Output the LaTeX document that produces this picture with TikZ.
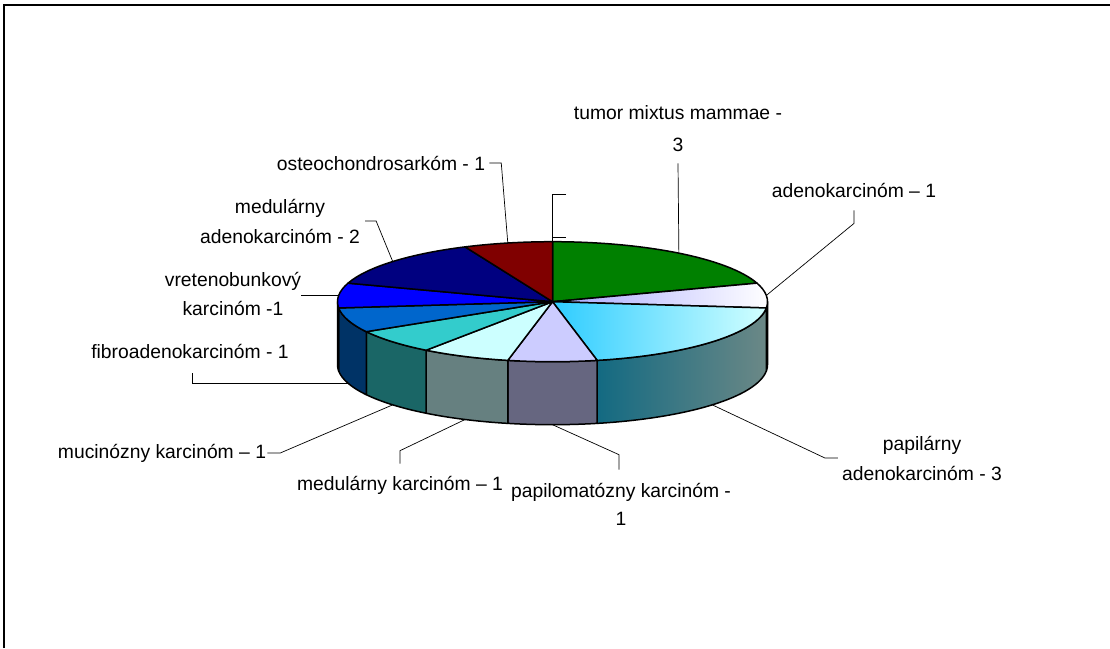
\documentclass[tikz,border=0pt]{standalone}
\usepackage{fontspec}
\setmainfont{Liberation Sans}
\usetikzlibrary{calc}

% top colours
\definecolor{cTumor}{HTML}{008000}
\definecolor{cAdeno}{HTML}{A8A8FF}
\definecolor{cPapilL}{HTML}{2ECCFF}
\definecolor{cPapilR}{HTML}{D2FFFF}
\definecolor{cPapilom}{HTML}{CCCCFF}
\definecolor{cMedK}{HTML}{CCFFFF}
\definecolor{cMucin}{HTML}{33CCCC}
\definecolor{cFibro}{HTML}{0066CC}
\definecolor{cVret}{HTML}{0000FF}
\definecolor{cMedA}{HTML}{000080}
\definecolor{cOsteo}{HTML}{800000}
% side colours
\definecolor{sPapilL}{HTML}{136A82}
\definecolor{sPapilR}{HTML}{6B8886}
\definecolor{sPapilom}{HTML}{666680}
\definecolor{sMedK}{HTML}{668080}
\definecolor{sMucin}{HTML}{1A6666}
\definecolor{sFibro}{HTML}{003366}
\definecolor{sVret}{HTML}{000080}

\tikzset{
  slice/.style={draw=black,line width=1.5pt,line join=round},
  pie/.style={x radius=215,y radius=60},
  leader/.style={draw=black,line width=0.7pt},
  lbl/.style={font=\fontsize{19.3}{30}\selectfont,inner sep=0pt,align=center},
}

\begin{document}
\begin{tikzpicture}[x=1pt,y=1pt]
    \useasboundingbox (0,0) rectangle (1110,648);
    \draw[line width=2pt] (4,0) -- (4,643) -- (1110,643);

    \coordinate (C) at (552.5,346.3);

    % sides
    \draw[slice,fill=sPapilR] ($(C)+(0:215 and 60)$) arc[pie,start angle=0,end angle=-6] -- ++(0,-63) arc[pie,start angle=-6,end angle=0] -- cycle;
    \draw[slice,left color=sPapilL,right color=sPapilR] ($(C)+(-6:215 and 60)$) arc[pie,start angle=-6,end angle=-78] -- ++(0,-63) arc[pie,start angle=-78,end angle=-6] -- cycle;
    \draw[slice,fill=sPapilom] ($(C)+(-78:215 and 60)$) arc[pie,start angle=-78,end angle=-102] -- ++(0,-63) arc[pie,start angle=-102,end angle=-78] -- cycle;
    \draw[slice,fill=sMedK] ($(C)+(-102:215 and 60)$) arc[pie,start angle=-102,end angle=-126] -- ++(0,-63) arc[pie,start angle=-126,end angle=-102] -- cycle;
    \draw[slice,fill=sMucin] ($(C)+(-126:215 and 60)$) arc[pie,start angle=-126,end angle=-150] -- ++(0,-63) arc[pie,start angle=-150,end angle=-126] -- cycle;
    \draw[slice,fill=sFibro] ($(C)+(-150:215 and 60)$) arc[pie,start angle=-150,end angle=-174] -- ++(0,-63) arc[pie,start angle=-174,end angle=-150] -- cycle;
    \draw[slice,fill=sVret] ($(C)+(-174:215 and 60)$) arc[pie,start angle=-174,end angle=-180] -- ++(0,-63) arc[pie,start angle=-180,end angle=-174] -- cycle;

    % top
    \draw[slice,fill=cTumor] (C) -- ($(C)+(90:215 and 60)$) arc[pie,start angle=90,end angle=18] -- cycle;
    \draw[slice,left color=cAdeno,right color=white] (C) -- ($(C)+(18:215 and 60)$) arc[pie,start angle=18,end angle=-6] -- cycle;
    \draw[slice,left color=cPapilL,right color=cPapilR] (C) -- ($(C)+(-6:215 and 60)$) arc[pie,start angle=-6,end angle=-78] -- cycle;
    \draw[slice,fill=cPapilom] (C) -- ($(C)+(-78:215 and 60)$) arc[pie,start angle=-78,end angle=-102] -- cycle;
    \draw[slice,fill=cMedK] (C) -- ($(C)+(-102:215 and 60)$) arc[pie,start angle=-102,end angle=-126] -- cycle;
    \draw[slice,fill=cMucin] (C) -- ($(C)+(-126:215 and 60)$) arc[pie,start angle=-126,end angle=-150] -- cycle;
    \draw[slice,fill=cFibro] (C) -- ($(C)+(-150:215 and 60)$) arc[pie,start angle=-150,end angle=-174] -- cycle;
    \draw[slice,fill=cVret] (C) -- ($(C)+(186:215 and 60)$) arc[pie,start angle=186,end angle=162] -- cycle;
    \draw[slice,fill=cMedA] (C) -- ($(C)+(162:215 and 60)$) arc[pie,start angle=162,end angle=114] -- cycle;
    \draw[slice,fill=cOsteo] (C) -- ($(C)+(114:215 and 60)$) arc[pie,start angle=114,end angle=90] -- cycle;

    % leader ends
    \coordinate (eTumor) at ($(C)+(54:215 and 60)$);
    \coordinate (eAdeno) at ($(C)+(6:215 and 60)$);
    \coordinate (ePapil) at ($(C)+(0,-63)+(-42:215 and 60)$);
    \coordinate (ePapilom) at ($(C)+(0,-63)+(-90:215 and 60)$);
    \coordinate (eMedK) at ($(C)+(0,-63)+(-114:215 and 60)$);
    \coordinate (eMucin) at ($(C)+(0,-63)+(-138:215 and 60)$);
    \coordinate (eFibro) at ($(C)+(0,-63)+(-162:215 and 60)$);
    \coordinate (eVret) at ($(C)+(174:215 and 60)$);
    \coordinate (eMedA) at ($(C)+(138:215 and 60)$);
    \coordinate (eOsteo) at ($(C)+(102:215 and 60)$);
    \coordinate (eNone) at ($(C)+(90:215 and 60)$);
    \coordinate (kNone) at (552.5,454);

    % labels
    \node[lbl] (lTumor) at (678,519) {tumor mixtus mammae -\\[2pt]3};
    \node[lbl] (lAdeno) at (854,458) {adenokarcinóm – 1};
    \node[lbl] (lPapil) at (922,190) {papilárny\\adenokarcinóm - 3};
    \node[lbl] (lPapilom) at (621,144) {papilomatózny karcinóm -\\[-2pt]1};
    \node[lbl] (lMedK) at (400,163) {medulárny karcinóm – 1};
    \node[lbl] (lMucin) at (162,195) {mucinózny karcinóm – 1};
    \node[lbl] (lFibro) at (190,297) {fibroadenokarcinóm - 1};
    \node[lbl] (lVret) at (233,354) {vretenobunkový\\[-1pt]karcinóm -1};
    \node[lbl] (lMedA) at (280,427) {medulárny\\adenokarcinóm - 2};
    \node[lbl] (lOsteo) at (381,485) {osteochondrosarkóm - 1};

    % leaders
    \draw[leader] ([yshift=-11]lTumor.south) -- (eTumor);
    \draw[leader] ([yshift=-13]lAdeno.south) -- ++(0,-13) -- (eAdeno);
    \draw[leader] ([xshift=-4]lPapil.west) -- ++(-13,0) -- (ePapil);
    \draw[leader] ([xshift=-2,yshift=13]lPapilom.north) -- ++(0,15) -- (ePapilom);
    \draw[leader] ([yshift=12]lMedK.north) -- ++(0,13) -- (eMedK);
    \draw[leader] ([xshift=1]lMucin.east) -- ++(13,0) -- (eMucin);
    \draw[leader] ([xshift=2,yshift=-15]lFibro.south) |- (eFibro);
    \draw[leader] (lVret.east |- eVret) -- (eVret);
    \draw[leader] ([xshift=5]lMedA.east) -- ++(11,0) -- (eMedA);
    \draw[leader] ([xshift=4]lOsteo.east) -- ++(12,0) -- (eOsteo);
    \draw[leader] ([xshift=13.5]kNone) -- (kNone) -- (eNone);
    \draw[leader] ([yshift=4]eNone) -- ++(13.5,0);
\end{tikzpicture}
\end{document}
